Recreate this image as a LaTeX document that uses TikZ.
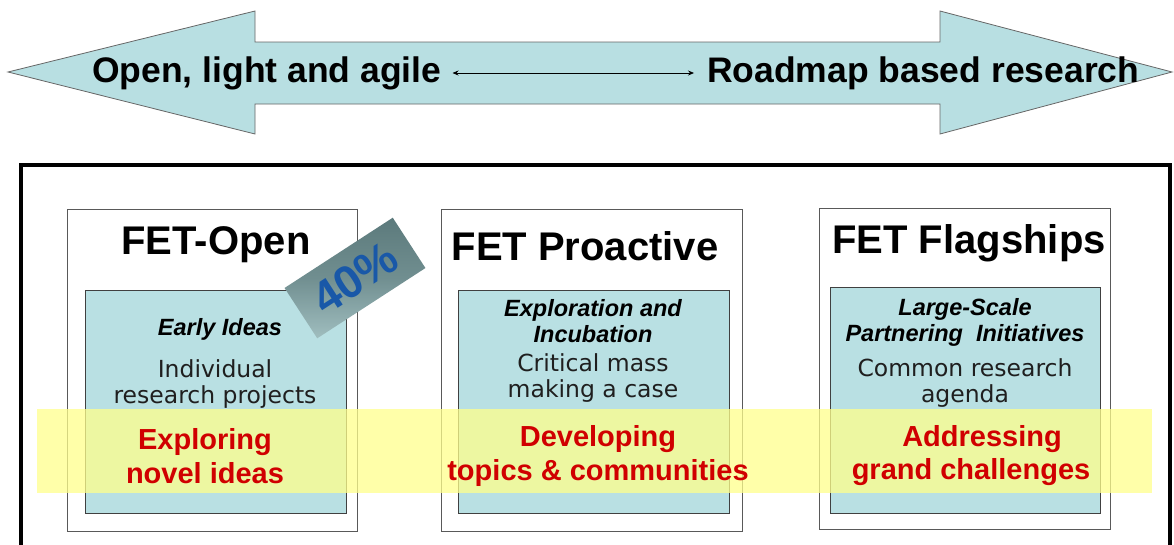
\documentclass[tikz,border=0pt]{standalone}
\usepackage{fontspec}
\setmainfont{Liberation Sans}
\newfontfamily\verd{DejaVu Sans}
\usetikzlibrary{arrows.meta}
\definecolor{cyanfill}{RGB}{185,224,227}
\definecolor{arrowfill}{RGB}{184,223,226}
\definecolor{bandyel}{RGB}{255,255,140}
\definecolor{redtxt}{RGB}{208,0,0}
\definecolor{tagdark}{RGB}{92,122,124}
\definecolor{taglight}{RGB}{160,190,191}
\definecolor{tagblue}{RGB}{25,88,168}
\tikzset{
  outerbox/.style={draw=black!65, line width=1.2pt, fill=white, anchor=north west, inner sep=0},
  innerbox/.style={draw=black!75, line width=1.2pt, fill=cyanfill, anchor=north west, inner sep=0},
  title/.style={font=\fontsize{40}{42}\selectfont\bfseries, inner sep=0},
  head/.style={font=\fontsize{35.5}{38}\selectfont\bfseries, inner sep=0, anchor=west},
  sub/.style={font=\fontsize{23.5}{26}\selectfont\bfseries\itshape, align=center, inner sep=0},
  body/.style={font=\verd\fontsize{23.5}{26.5}\selectfont, text=black!88, align=center, inner sep=0},
  redt/.style={font=\fontsize{29}{33.5}\selectfont\bfseries, text=redtxt, align=center, inner sep=0},
}
\begin{document}
\begin{tikzpicture}[x=1pt,y=-1pt]
\useasboundingbox (0,0) rectangle (1174,544);
% big double arrow
\draw[draw=black!60, line width=0.8pt, fill=arrowfill]
  (8,72) -- (255,11) -- (255,42) -- (940,42) -- (940,11) -- (1172,72)
  -- (940,134) -- (940,104) -- (255,104) -- (255,134) -- cycle;
\node[head] (tl) at (92,73) {Open, light and agile};
\node[head] (tr) at (707,73) {Roadmap based research};
\draw[line width=0.8pt, {Stealth[length=6pt,width=5pt]}-{Stealth[length=6pt,width=5pt]}]
  ([xshift=11pt]tl.east) -- ([xshift=-13pt]tr.west);
% frame
\draw[line width=3.6pt] (21,550) -- (21,165) -- (1170,165) -- (1170,550);
% boxes
\node[outerbox, minimum width=290, minimum height=322] (o1) at (67,209) {};
\node[outerbox, minimum width=301, minimum height=322] (o2) at (441,209) {};
\node[outerbox, minimum width=291, minimum height=321] (o3) at (819,208) {};
\node[innerbox, minimum width=261, minimum height=223] (i1) at (85,290) {};
\node[innerbox, minimum width=271, minimum height=223] (i2) at (458,290) {};
\node[innerbox, minimum width=270, minimum height=226] (i3) at (830,287) {};
% titles
\node[title] (t1) at (216,245) {FET-Open};
\node[title] (t2) at (585,246) {FET Proactive};
\node[title] (t3) at (969,243) {FET Flagships};
% inner texts
\node[sub] (s1) at (220,329) {Early Ideas};
\node[body] (b1) at (215,384) {Individual\\research projects};
\node[sub] (s2) at (593,321) {Exploration and\\Incubation};
\node[body] (b2) at (593,378) {Critical mass\\making a case};
\node[sub] (s3) at (965,322) {Large-Scale\\Partnering~~Initiatives};
\node[body] (b3) at (965,383) {Common research\\agenda};
% yellow band
\fill[bandyel, opacity=0.75] (37,409) rectangle (1152,493);
% red texts
\node[redt] (r1) at (205,456) {Exploring\\novel ideas};
\node[redt] (r2) at (598,456) {Developing\\topics \& communities};
\node[redt] (r3a) at (982,439) {Addressing};
\node[redt] (r3b) at (971,472) {grand challenges};
% 40% tag
\node[rotate=33, minimum width=129, minimum height=60, inner sep=0,
      top color=tagdark, bottom color=taglight, middle color=tagdark!70!taglight,
      font=\fontsize{46}{46}\selectfont\bfseries, text=tagblue] (tag) at (355,278) {40\%};
\end{tikzpicture}
\end{document}
